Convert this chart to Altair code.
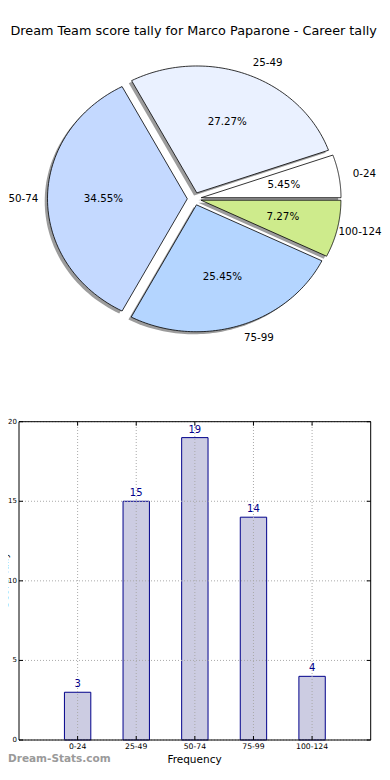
import altair as alt
import pandas as pd

# ---------------- data ----------------
TITLE = "Dream Team score tally for Marco Paparone - Career tally"
categories = ["0-24", "25-49", "50-74", "75-99", "100-124"]
counts = [3, 15, 19, 14, 4]
pie_colors = ["#FFFFFF", "#EAF1FF", "#C4D9FF", "#B4D5FF", "#CEEB8C"]
y_tick_values = [0, 5, 10, 15, 20]
X_TITLE = "Frequency"
Y_TITLE = "Score Tally"
WATERMARK = "Dream-Stats.com"

# ---------------- layout / style ----------------
FONT = "DejaVu Sans"
W, H = 374, 758                # fits the 390x780 window with its 8px margin
CX, CY = 186.3, 190.8          # pie centre (px)
RX, RY = 139.8, 126.9          # pie radii (px) - the original pie is slightly elliptical
EXPLODE = 0.05
SHADOW_DX, SHADOW_DY = -2.8, 2.5
NSEG = 72
LABEL_FS = 10.3
X_DOMAIN = [0, 6]
Y_DOMAIN = [0, 20]
X_RANGE = [11, 362.7]
Y_RANGE = [732, 413.7]
BAR_WIDTH = 0.45
BAR_FILL = "#CCCCE2"
BAR_EDGE = "#00008B"
GRID_COLOR = "#aaaaaa"

df = pd.DataFrame({
    "cat": categories,
    "count": counts,
    "color": pie_colors,
    "idx": list(range(len(categories))),
})
df["pos"] = df["idx"] + 1
ydf = pd.DataFrame({"v": y_tick_values})

base = alt.Chart(df)

# ---------------- pie ----------------
pie = (
    base.transform_joinaggregate(total="sum(count)")
    .transform_window(cum="sum(count)", sort=[alt.SortField("idx", order="ascending")], frame=[None, 0])
    .transform_calculate(a0="2*PI*(datum.cum - datum.count)/datum.total")
    .transform_calculate(a1="2*PI*datum.cum/datum.total")
    .transform_calculate(am="(datum.a0 + datum.a1)/2")
    .transform_calculate(ox=f"{CX} + {EXPLODE * RX}*cos(datum.am)")
    .transform_calculate(oy=f"{CY} - {EXPLODE * RY}*sin(datum.am)")
)

pts = (
    pie.transform_calculate(step=f"sequence(-1, {NSEG + 2})")
    .transform_flatten(["step"])
    .transform_calculate(inarc=f"datum.step >= 0 && datum.step <= {NSEG}")
    .transform_calculate(ang=f"datum.a0 + (datum.a1 - datum.a0)*clamp(datum.step, 0, {NSEG})/{NSEG}")
    .transform_calculate(px=f"datum.inarc ? datum.ox + {RX}*cos(datum.ang) : datum.ox")
    .transform_calculate(py=f"datum.inarc ? datum.oy - {RY}*sin(datum.ang) : datum.oy")
)

shadow = (
    pts.transform_calculate(sx=f"datum.px + ({SHADOW_DX})")
    .transform_calculate(sy=f"datum.py + ({SHADOW_DY})")
    .mark_line(fill="#9c9c9c", stroke="transparent", strokeWidth=0, interpolate="linear")
    .encode(
        x=alt.X("sx:Q", scale=None, axis=None),
        y=alt.Y("sy:Q", scale=None, axis=None),
        detail="cat:N",
        order="step:Q",
    )
)

wedges = (
    pts.mark_line(stroke="black", strokeWidth=0.8, strokeJoin="round", interpolate="linear")
    .encode(
        x=alt.X("px:Q", scale=None, axis=None),
        y=alt.Y("py:Q", scale=None, axis=None),
        detail="cat:N",
        order="step:Q",
        fill=alt.Fill("color:N", scale=None),
    )
)

pct = (
    pie.transform_calculate(tx=f"datum.ox + 0.6*{RX}*cos(datum.am)")
    .transform_calculate(ty=f"datum.oy - 0.6*{RY}*sin(datum.am)")
    .transform_calculate(label="format(100*datum.count/datum.total, '.2f') + '%'")
    .mark_text(font=FONT, fontSize=LABEL_FS, color="black", align="center", baseline="middle")
    .encode(
        x=alt.X("tx:Q", scale=None, axis=None),
        y=alt.Y("ty:Q", scale=None, axis=None),
        text="label:N",
    )
)

# labels sit at 1.1 radius; they are only nudged if they would leave the drawing
labs = (
    pie.transform_calculate(lx=f"datum.ox + 1.1*{RX}*cos(datum.am)")
    .transform_calculate(ly=f"datum.oy - 1.1*{RY}*sin(datum.am)")
    .transform_calculate(tw=f"{LABEL_FS}*(0.636*(length(datum.cat) - 1) + 0.361)")
)
lab_right = (
    labs.transform_filter("cos(datum.am) > 0")
    .transform_calculate(lxx=f"min(datum.lx, {W} - 0.5 - datum.tw)")
    .mark_text(font=FONT, fontSize=LABEL_FS, color="black", align="left", baseline="middle")
    .encode(x=alt.X("lxx:Q", scale=None, axis=None), y=alt.Y("ly:Q", scale=None, axis=None), text="cat:N")
)
lab_left = (
    labs.transform_filter("cos(datum.am) <= 0")
    .transform_calculate(lxx="max(datum.lx, 0.5 + datum.tw)")
    .mark_text(font=FONT, fontSize=LABEL_FS, color="black", align="right", baseline="middle")
    .encode(x=alt.X("lxx:Q", scale=None, axis=None), y=alt.Y("ly:Q", scale=None, axis=None), text="cat:N")
)

# ---------------- bar chart ----------------
xs = alt.Scale(domain=X_DOMAIN, range=X_RANGE, nice=False, zero=False)
ys = alt.Scale(domain=Y_DOMAIN, range=Y_RANGE, nice=False, zero=False)

bar_data = (
    base.transform_calculate(x0=f"datum.pos - {BAR_WIDTH / 2}")
    .transform_calculate(x1=f"datum.pos + {BAR_WIDTH / 2}")
    .transform_calculate(ylo=str(Y_DOMAIN[0]), yhi=str(Y_DOMAIN[1]))
)

bars = bar_data.mark_rect(fill=BAR_FILL, stroke=BAR_EDGE, strokeWidth=1).encode(
    x=alt.X("x0:Q", scale=xs, axis=None),
    x2="x1:Q",
    y=alt.Y("count:Q", scale=ys, axis=None),
    y2="ylo:Q",
)

vgrid = bar_data.mark_rule(color=GRID_COLOR, strokeDash=[1, 2], strokeWidth=1).encode(
    x=alt.X("pos:Q", scale=xs, axis=None),
    y=alt.Y("ylo:Q", scale=ys, axis=None),
    y2="yhi:Q",
)

ybase = alt.Chart(ydf).transform_calculate(xlo=str(X_DOMAIN[0]), xhi=str(X_DOMAIN[1]))
hgrid = ybase.mark_rule(color=GRID_COLOR, strokeDash=[1, 2], strokeWidth=1).encode(
    y=alt.Y("v:Q", scale=ys, axis=None),
    x=alt.X("xlo:Q", scale=xs, axis=None),
    x2="xhi:Q",
)

frame = alt.Chart(pd.DataFrame({
    "x0": [X_DOMAIN[0]], "x1": [X_DOMAIN[1]], "y0": [Y_DOMAIN[0]], "y1": [Y_DOMAIN[1]]
})).mark_rect(fillOpacity=0, stroke="black", strokeWidth=1).encode(
    x=alt.X("x0:Q", scale=xs, axis=None), x2="x1:Q",
    y=alt.Y("y0:Q", scale=ys, axis=None), y2="y1:Q",
)

ytick_l = ybase.mark_rule(color="black", x2Offset=4).encode(
    y=alt.Y("v:Q", scale=ys, axis=None), x=alt.X("xlo:Q", scale=xs, axis=None), x2="xlo:Q")
ytick_r = ybase.mark_rule(color="black", x2Offset=-4).encode(
    y=alt.Y("v:Q", scale=ys, axis=None), x=alt.X("xhi:Q", scale=xs, axis=None), x2="xhi:Q")
xtick_b = bar_data.mark_rule(color="black", y2Offset=-4).encode(
    x=alt.X("pos:Q", scale=xs, axis=None), y=alt.Y("ylo:Q", scale=ys, axis=None), y2="ylo:Q")
xtick_t = bar_data.mark_rule(color="black", y2Offset=4).encode(
    x=alt.X("pos:Q", scale=xs, axis=None), y=alt.Y("yhi:Q", scale=ys, axis=None), y2="yhi:Q")

ytl = ybase.mark_text(font=FONT, fontSize=7, align="right", baseline="middle", dx=-2, color="black").encode(
    x=alt.X("xlo:Q", scale=xs, axis=None), y=alt.Y("v:Q", scale=ys, axis=None), text="v:Q")
xtl = bar_data.mark_text(font=FONT, fontSize=7.7, align="center", baseline="top", dy=3, color="black").encode(
    x=alt.X("pos:Q", scale=xs, axis=None), y=alt.Y("ylo:Q", scale=ys, axis=None), text="cat:N")

vals = bar_data.mark_text(font=FONT, fontSize=10, align="center", baseline="alphabetic", dy=-5, color=BAR_EDGE).encode(
    x=alt.X("pos:Q", scale=xs, axis=None), y=alt.Y("count:Q", scale=ys, axis=None), text="count:Q")


def free_text(text, x, y, **kw):
    return alt.Chart(pd.DataFrame({"t": [text]})).mark_text(font=FONT, **kw).encode(
        x=alt.value(x), y=alt.value(y), text="t:N")


title = free_text(TITLE, 185.7, 22.5, fontSize=12.8, align="center", baseline="middle", color="black")
xtitle = free_text(X_TITLE, 186.5, 752, fontSize=10.5, align="center", baseline="middle", color="black")
ytitle = free_text(Y_TITLE, 2, 572, fontSize=10.5, align="center", baseline="bottom", angle=270, color="black")
wm = free_text(WATERMARK, 0, 751, fontSize=10.5, fontWeight="bold", align="left", baseline="middle", color="#9a9a9a")

chart = alt.layer(
    shadow, wedges, pct, lab_right, lab_left, title,
    bars, vgrid, hgrid, frame, ytick_l, ytick_r, xtick_b, xtick_t,
    ytl, xtl, vals, xtitle, ytitle, wm,
).properties(
    width=W, height=H, autosize=alt.AutoSizeParams(type="none"), padding=0,
).configure_view(stroke=None)

chart.save("out.html", embed_options={"renderer": "svg", "actions": False})
